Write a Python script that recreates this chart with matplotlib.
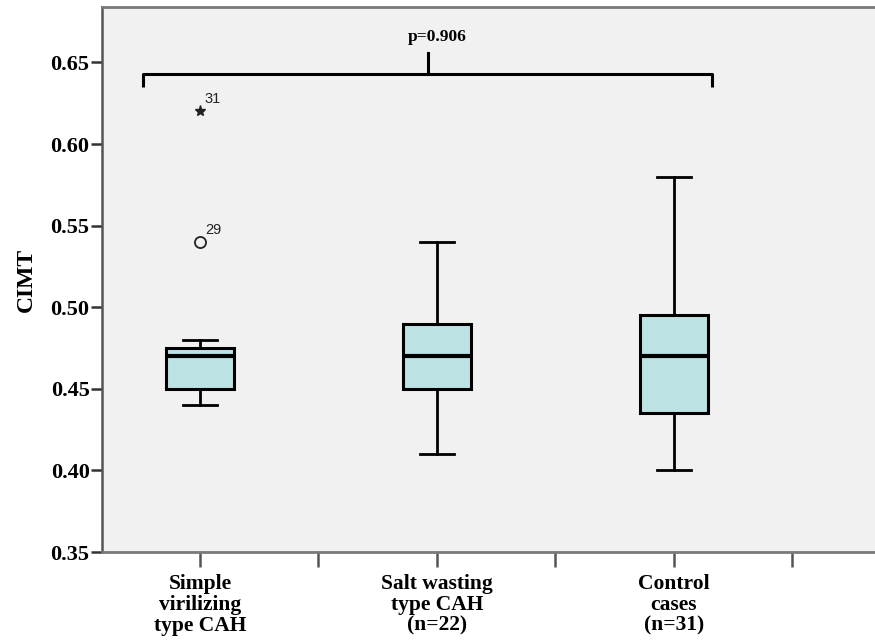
import matplotlib.pyplot as plt

# Box plot summary values
groups = ["Simple\nvirilizing\ntype CAH", "Salt wasting\ntype CAH\n(n=22)", "Control\ncases\n(n=31)"]
whislo = [0.44, 0.41, 0.40]
q1 = [0.45, 0.45, 0.435]
med = [0.47, 0.47, 0.47]
q3 = [0.475, 0.49, 0.495]
whishi = [0.48, 0.54, 0.58]

# outliers (group 1 only)
outlier_vals = [0.54]
outlier_ids = ["29"]
extreme_vals = [0.62]
extreme_ids = ["31"]

p_text = "p=0.906"
yticks = [0.35, 0.40, 0.45, 0.50, 0.55, 0.60, 0.65]

serif = "Liberation Serif"
sans = "Liberation Sans"

fig = plt.figure(figsize=(8.75, 6.44), dpi=100)
ax = fig.add_axes([102 / 875, 92 / 644, 809 / 875, 545 / 644])
ax.set_facecolor("#f1f1f1")

stats = []
for i in range(3):
    stats.append({"whislo": whislo[i], "q1": q1[i], "med": med[i],
                  "q3": q3[i], "whishi": whishi[i], "fliers": []})

ax.bxp(stats, positions=[1, 2, 3], widths=0.29, capwidths=0.145,
       patch_artist=True, showfliers=False,
       boxprops=dict(facecolor="#bde2e4", edgecolor="black", linewidth=2.2),
       medianprops=dict(color="black", linewidth=3),
       whiskerprops=dict(color="black", linewidth=2),
       capprops=dict(color="black", linewidth=2))

# outliers
ax.plot([1] * len(outlier_vals), outlier_vals, "o", mfc="none", mec="#222222",
        ms=8, mew=1.3)
for v, t in zip(outlier_vals, outlier_ids):
    ax.annotate(t, (1, v), xytext=(4, 6), textcoords="offset points",
                fontsize=10.5, family=sans, color="#222222")
ax.plot([1] * len(extreme_vals), extreme_vals, "*", color="#222222", ms=8)
for v, t in zip(extreme_vals, extreme_ids):
    ax.annotate(t, (1, v), xytext=(3, 6), textcoords="offset points",
                fontsize=10.5, family=sans, color="#222222")

# significance bracket
bx0, bx1, bxc = 0.76, 3.16, 1.96
by_low, by, by_top = 0.635, 0.643, 0.656
ax.plot([bx0, bx0, bx1, bx1], [by_low, by, by, by_low], color="black",
        lw=2.2, solid_joinstyle="round", solid_capstyle="butt")
ax.plot([bxc, bxc], [by, by_top], color="black", lw=2.2)
ax.text(bxc + 0.04, 0.6605, p_text, ha="center", va="bottom",
        fontsize=12.5, family=serif, fontweight="bold")

ax.set_xlim(0.5865, 4.0)
ax.set_ylim(0.35, 0.684)
ax.set_yticks(yticks)
ax.set_yticklabels([f"{v:.2f}" for v in yticks], family=serif,
                   fontweight="bold", fontsize=16)
ax.set_xticks([1, 1.5, 2, 2.5, 3, 3.5])
ax.set_xticklabels([groups[0], "", groups[1], "", groups[2], ""],
                   family=serif, fontweight="bold", fontsize=15.5,
                   linespacing=1.05)
ax.tick_params(axis="y", length=8, width=1.8, color="#333333", pad=1)
ax.tick_params(axis="x", length=11, width=1.8, color="#555555", pad=5)
ax.set_ylabel("CIMT", family=serif, fontweight="bold", fontsize=17, labelpad=10)

for s in ["top", "bottom", "right"]:
    ax.spines[s].set_color("#7a7a7a")
    ax.spines[s].set_linewidth(2)
ax.spines["left"].set_color("#555555")
ax.spines["left"].set_linewidth(1.8)

fig.savefig("out.png", dpi=100)
